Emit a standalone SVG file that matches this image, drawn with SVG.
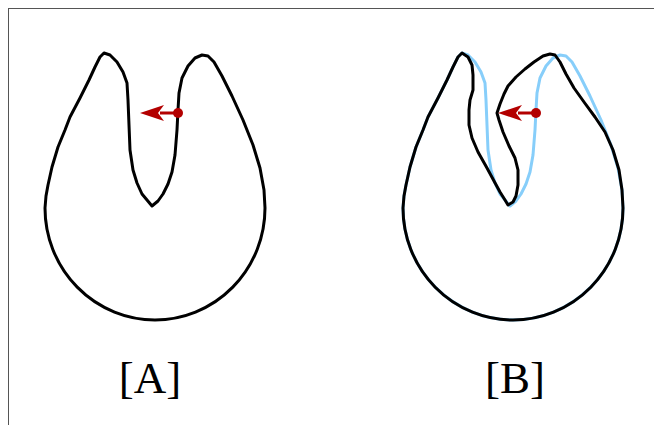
<svg xmlns="http://www.w3.org/2000/svg" xmlns:xlink="http://www.w3.org/1999/xlink" width="654" height="425" viewBox="0 0 654 425">
<style>
.frame{stroke:#555;stroke-width:1;fill:none}
.shape{fill:none;stroke:#000;stroke-width:3;stroke-linejoin:round}
.orig{fill:none;stroke:#87cefa;stroke-width:3;stroke-linejoin:round}
.vec{stroke:#b30000;stroke-width:3;fill:none}
.tip{fill:#b30000}
.lbl{font-family:"Liberation Serif","Times New Roman",serif;font-size:45px;fill:#000;text-anchor:middle}
</style>
<defs>
<path id="shapeA" d="M104,53 L110,55 L117,62 L123,72 L127,83 L128,100 L129,125 L130,150 L133,170 L137,183 L142,194 L147,200 L152,206 L158,201 L163,194 L168,184 L172,172 L175,155 L177,130 L178,110 L179,93 L182,78 L188,66 L195,58 L202,55 L208,56 L214,62 L222,76 L232,96 L243,120 L253,145 L260,168 L264,190 L265,208 A110,112 0 0 1 45,208 L46,196 L48,185 L52,167 L58,147 L65,130 L70,117 L80,98 L89,80 L95,67 L100,57 Z"/>
<g id="arrow">
<line class="vec" x1="0" y1="0" x2="-18" y2="0"/>
<path class="tip" d="M-38,0 L-14,-8 L-20,0 L-14,8 Z"/>
<circle class="tip" cx="0" cy="0" r="5"/>
</g>
</defs>
<g id="frame">
<line class="frame" x1="8" y1="8.5" x2="654" y2="8.5"/>
<line class="frame" x1="8.5" y1="8" x2="8.5" y2="425"/>
</g>
<g id="nodeA">
<use xlink:href="#shapeA" class="shape"/>
<text class="lbl" x="150" y="393">[A]</text>
</g>
<g id="nodeB">
<use xlink:href="#shapeA" class="orig" transform="translate(358,0)"/>
<path class="shape" d="M462,53 L468,57 L472,65 L473,75 L473,90 L470,100 L469,110 L469,125 L472,138 L478,152 L487,168 L494,181 L500,192 L505,200 L508,205 L513,202 L516,196 L518,185 L518,170 L515,158 L509,146 L503,132 L499,120 L497,113 L500,104 L504,94 L508,86 L516,77 L525,69 L534,62 L543,56 L550,54 L555,55 L560,62 L566,74 L574,88 L584,102 L595,117 L605,132 L613,150 L619,170 L622,190 L623,208 A110,112 0 0 1 403,208 L404,196 L406,185 L410,167 L416,147 L423,130 L428,117 L438,98 L447,80 L453,67 L458,57 Z"/>
<text class="lbl" x="515" y="393">[B]</text>
</g>
<g id="connectors">
<use xlink:href="#arrow" transform="translate(178,113)"/>
<use xlink:href="#arrow" transform="translate(536,113)"/>
</g>
</svg>
